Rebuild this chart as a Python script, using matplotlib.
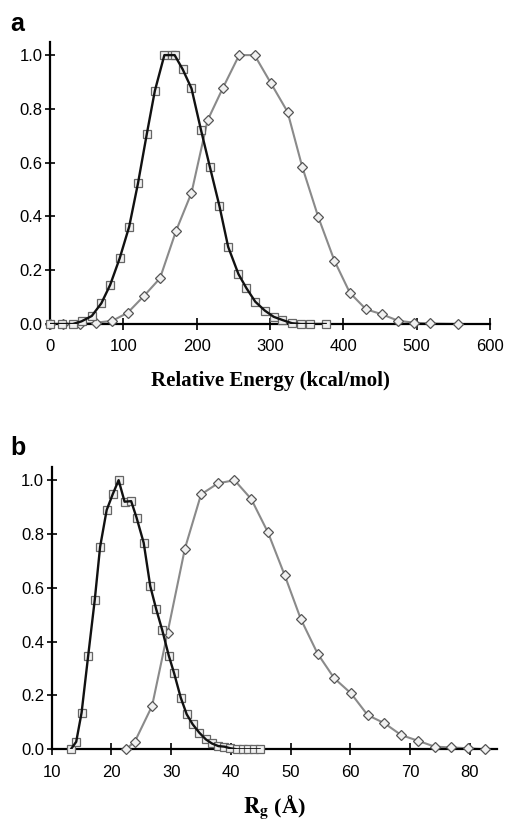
import matplotlib
matplotlib.use("Agg")
import matplotlib.pyplot as plt

plt.rcParams["mathtext.fontset"] = "stix"

# panel a: relative energy distributions
energy_sq_x = [0, 17, 31, 43, 57, 70, 82, 95, 108, 120, 132, 143, 156, 166, 170,
               181, 193, 206, 218, 231, 243, 257, 268, 280, 293, 305, 317, 330,
               342, 355, 376]
energy_sq_y = [0, 0, 0, 0.01, 0.03, 0.077, 0.145, 0.244, 0.362, 0.523, 0.706, 0.867,
               1.0, 1.0, 1.0, 0.947, 0.876, 0.721, 0.585, 0.44, 0.287, 0.186, 0.133,
               0.083, 0.05, 0.027, 0.015, 0.003, 0, 0, 0]
energy_di_x = [0, 18, 41, 63, 85, 106, 128, 150, 172, 193, 215, 236, 258, 279,
               301, 324, 344, 366, 388, 409, 431, 453, 475, 497, 518, 557]
energy_di_y = [0, 0, 0, 0.005, 0.012, 0.042, 0.104, 0.17, 0.347, 0.488, 0.758, 0.879,
               1.0, 1.0, 0.897, 0.789, 0.585, 0.397, 0.235, 0.116, 0.055, 0.036,
               0.012, 0.005, 0.002, 0]

# panel b: radius of gyration distributions
rg_sq_x = [13.2, 14.1, 15.0, 16.1, 17.2, 18.1, 19.2, 20.2, 21.2, 22.2, 23.3, 24.2,
           25.4, 26.5, 27.5, 28.5, 29.6, 30.5, 31.6, 32.6, 33.6, 34.7, 35.8, 36.8,
           37.9, 38.9, 39.9, 41.0, 42.0, 42.8, 43.8, 44.8]
rg_sq_y = [0, 0.028, 0.136, 0.347, 0.554, 0.752, 0.889, 0.947, 1.0, 0.92, 0.922,
           0.861, 0.767, 0.606, 0.52, 0.443, 0.348, 0.282, 0.192, 0.13, 0.093, 0.062,
           0.037, 0.022, 0.012, 0.01, 0.004, 0, 0, 0, 0, 0]
rg_di_x = [22.4, 23.9, 26.8, 29.4, 32.3, 35.0, 37.8, 40.6, 43.4, 46.2, 49.0, 51.7,
           54.5, 57.3, 60.1, 62.9, 65.7, 68.5, 71.3, 74.1, 76.8, 79.7, 82.5]
rg_di_y = [0, 0.028, 0.161, 0.434, 0.746, 0.947, 0.988, 1.0, 0.93, 0.806, 0.647,
           0.484, 0.356, 0.264, 0.208, 0.127, 0.097, 0.053, 0.032, 0.01, 0.007,
           0.004, 0]

yticks = [0.0, 0.2, 0.4, 0.6, 0.8, 1.0]

fig = plt.figure(figsize=(5.08, 8.3), dpi=100)
ax_a = fig.add_axes([0.0984, 0.6096, 0.866, 0.3402])
ax_b = fig.add_axes([0.1018, 0.0972, 0.876, 0.3405])


def style_axis(ax):
    for side in ("top", "right"):
        ax.spines[side].set_visible(False)
    for side in ("left", "bottom"):
        ax.spines[side].set_linewidth(1.6)
    ax.tick_params(axis="y", direction="inout", length=7, width=1.2, labelsize=12,
                   pad=2)
    ax.tick_params(axis="x", direction="inout", length=8, width=1.2, labelsize=12,
                   pad=7)
    ax.set_yticks(yticks)
    ax.set_yticklabels([f"{v:.1f}" for v in yticks])
    ax.set_ylim(0, 1.05)


def draw(ax, sx, sy, dx, dy):
    ax.plot(dx, dy, color="#8a8a8a", lw=1.5, zorder=2)
    ax.plot(dx, dy, ls="none", marker="D", ms=5, mfc="#f0f0f0", mec="#555555",
            mew=0.9, zorder=3, clip_on=False)
    ax.plot(sx, sy, ls="none", marker="s", ms=5.5, mfc="#f0f0f0", mec="#666666",
            mew=0.9, zorder=3, clip_on=False)
    ax.plot(sx, sy, color="#111111", lw=1.7, zorder=4)


draw(ax_a, energy_sq_x, energy_sq_y, energy_di_x, energy_di_y)
style_axis(ax_a)
ax_a.set_xlim(0, 600)
ax_a.set_xticks(range(0, 601, 100))
ax_a.set_xlabel("Relative Energy (kcal/mol)", family="Liberation Serif",
                weight="bold", fontsize=15, labelpad=12)

draw(ax_b, rg_sq_x, rg_sq_y, rg_di_x, rg_di_y)
style_axis(ax_b)
ax_b.set_xlim(10, 84.5)
ax_b.set_xticks(range(10, 81, 10))
ax_b.set_xlabel(r"$\mathbf{R}_{\mathbf{g}}$ (Å)", family="Liberation Serif",
                weight="bold", fontsize=16, labelpad=10)

fig.text(0.02, 0.963, "a", family="Liberation Sans", weight="bold", fontsize=18)
fig.text(0.02, 0.452, "b", family="Liberation Sans", weight="bold", fontsize=18)

for ax in (ax_a, ax_b):
    for lab in ax.get_xticklabels() + ax.get_yticklabels():
        lab.set_family("Liberation Sans")

fig.savefig("out.png", dpi=100)
